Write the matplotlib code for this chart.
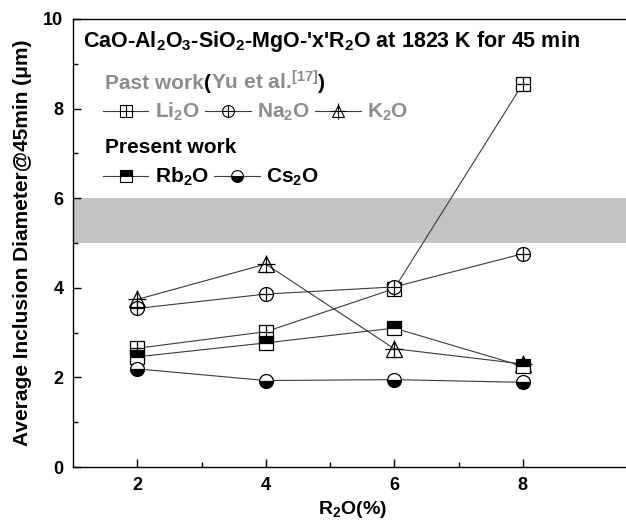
import numpy as np
import matplotlib
matplotlib.use('Agg')
import matplotlib.pyplot as plt
from matplotlib.lines import Line2D
from matplotlib.legend_handler import HandlerTuple

plt.rcParams['font.family'] = 'Liberation Sans'
plt.rcParams['font.weight'] = 'bold'
plt.rcParams['mathtext.fontset'] = 'custom'
plt.rcParams['mathtext.rm'] = 'Liberation Sans:bold'
plt.rcParams['mathtext.default'] = 'rm'

x = [2, 4, 6, 8]
li2o = [2.65, 3.02, 3.98, 8.55]
na2o = [3.54, 3.86, 4.02, 4.76]
k2o = [3.74, 4.53, 2.64, 2.30]
rb2o = [2.46, 2.77, 3.10, 2.25]
cs2o = [2.19, 1.93, 1.95, 1.89]

band = (5.0, 6.0)
past_color = '#8c8c8c'
line_color = '#3a3a3a'

fig = plt.figure(figsize=(6.26, 5.26), dpi=100)
ax = fig.add_axes([73/626, 1 - 467/526, 559/626, 448/526])

ax.axhspan(band[0], band[1], color='#c4c4c4', lw=0, zorder=0)

ms = 10
mk = dict(color='black', markeredgecolor='black', markeredgewidth=0.9, linestyle='none', zorder=4)

# lines
for s in [li2o, na2o, k2o, rb2o, cs2o]:
    ax.plot(x, s, color=line_color, lw=0.8, zorder=2)

# Li2O: square + plus
ax.plot(x, li2o, marker='s', markersize=ms*0.95, markerfacecolor='white', **mk)
ax.plot(x, li2o, marker='+', markersize=ms*0.95, **mk)
# Na2O: circle + plus
ax.plot(x, na2o, marker='o', markersize=ms, markerfacecolor='white', **mk)
ax.plot(x, na2o, marker='+', markersize=ms, **mk)
# K2O: triangle + plus
ax.plot(x, k2o, marker='^', markersize=ms*1.1, markerfacecolor='none', **mk)
ax.plot(x, k2o, marker='+', markersize=ms*1.3, **mk)
# Rb2O: half filled square
ax.plot(x, rb2o, marker='s', markersize=ms*0.95, fillstyle='top',
        markerfacecolor='black', markerfacecoloralt='white', **mk)
# Cs2O: half filled circle
ax.plot(x, cs2o, marker='o', markersize=ms, fillstyle='bottom',
        markerfacecolor='black', markerfacecoloralt='white', **mk)

ax.set_xlim(1, 9.7)
ax.set_ylim(0, 10)
ax.set_xticks([2, 4, 6, 8])
ax.set_xticks([3, 5, 7], minor=True)
ax.set_yticks([0, 2, 4, 6, 8, 10])
ax.set_yticks([1, 3, 5, 7, 9], minor=True)
ax.tick_params(direction='in', length=6, width=1, labelsize=13, pad=7)
ax.tick_params(which='minor', direction='in', length=3.5, width=1)
ax.spines['right'].set_visible(False)
for sp in ['left', 'bottom', 'top']:
    ax.spines[sp].set_linewidth(1.0)

ax.set_xlabel('R$_2$O(%)', fontsize=14, fontweight='bold', labelpad=4)
ax.set_ylabel('Average Inclusion Diameter@45min (\u03bcm)', fontsize=15,
              fontweight='bold', labelpad=8)

ax.text(0.018, 0.95, "CaO-Al$_2$O$_3$-SiO$_2$-MgO-'x'R$_2$O at 1823 K for 45 min",
        transform=ax.transAxes, fontsize=15.5, fontweight='bold', va='center', ha='left')

# legend headers, chained so the coloured pieces sit side by side
t1 = ax.text(0.057, 0.843, 'Past work', transform=ax.transAxes, fontsize=15,
             fontweight='bold', color=past_color, va='baseline')
t2 = ax.annotate('(', xy=(1, 0), xycoords=t1, va='bottom', fontsize=15, fontweight='bold')
t3 = ax.annotate('Yu et al.$^{[17]}$', xy=(1, 0), xycoords=t2, va='bottom',
                 fontsize=15, fontweight='bold', color=past_color)
t4 = ax.annotate(')', xy=(1, 0), xycoords=t3, va='bottom', fontsize=15, fontweight='bold')
ax.text(0.057, 0.700, 'Present work', transform=ax.transAxes, fontsize=15,
        fontweight='bold', color='black', va='baseline')


def handle(*markers):
    ln = Line2D([], [], color=line_color, lw=0.8)
    return tuple([ln] + list(markers))


hm = dict(color='black', markeredgecolor='black', markeredgewidth=0.8, linestyle='none')
h_li = handle(Line2D([], [], marker='s', markersize=8, markerfacecolor='white', **hm),
              Line2D([], [], marker='+', markersize=8, **hm))
h_na = handle(Line2D([], [], marker='o', markersize=8.5, markerfacecolor='white', **hm),
              Line2D([], [], marker='+', markersize=8.5, **hm))
h_k = handle(Line2D([], [], marker='^', markersize=9, markerfacecolor='none', **hm),
             Line2D([], [], marker='+', markersize=11, **hm))
h_rb = handle(Line2D([], [], marker='s', markersize=8, fillstyle='top',
                     markerfacecolor='black', markerfacecoloralt='white', **hm))
h_cs = handle(Line2D([], [], marker='o', markersize=8.5, fillstyle='bottom',
                     markerfacecolor='black', markerfacecoloralt='white', **hm))

hmap = {tuple: HandlerTuple(ndivide=1, pad=0)}
leg1 = ax.legend([h_li, h_na, h_k], ['Li$_2$O', 'Na$_2$O', 'K$_2$O'],
                 handler_map=hmap, ncol=3, frameon=False, loc='center left',
                 bbox_to_anchor=(0.053, 0.792), borderaxespad=0, borderpad=0,
                 handlelength=2.2, handletextpad=0.3, columnspacing=0.25,
                 labelcolor=past_color, prop={'weight': 'bold', 'size': 15})
ax.add_artist(leg1)
leg2 = ax.legend([h_rb, h_cs], ['Rb$_2$O', 'Cs$_2$O'],
                 handler_map=hmap, ncol=2, frameon=False, loc='center left',
                 bbox_to_anchor=(0.053, 0.647), borderaxespad=0, borderpad=0,
                 handlelength=2.2, handletextpad=0.3, columnspacing=0.25,
                 labelcolor='black', prop={'weight': 'bold', 'size': 15})

fig.savefig('out.png', dpi=100)
